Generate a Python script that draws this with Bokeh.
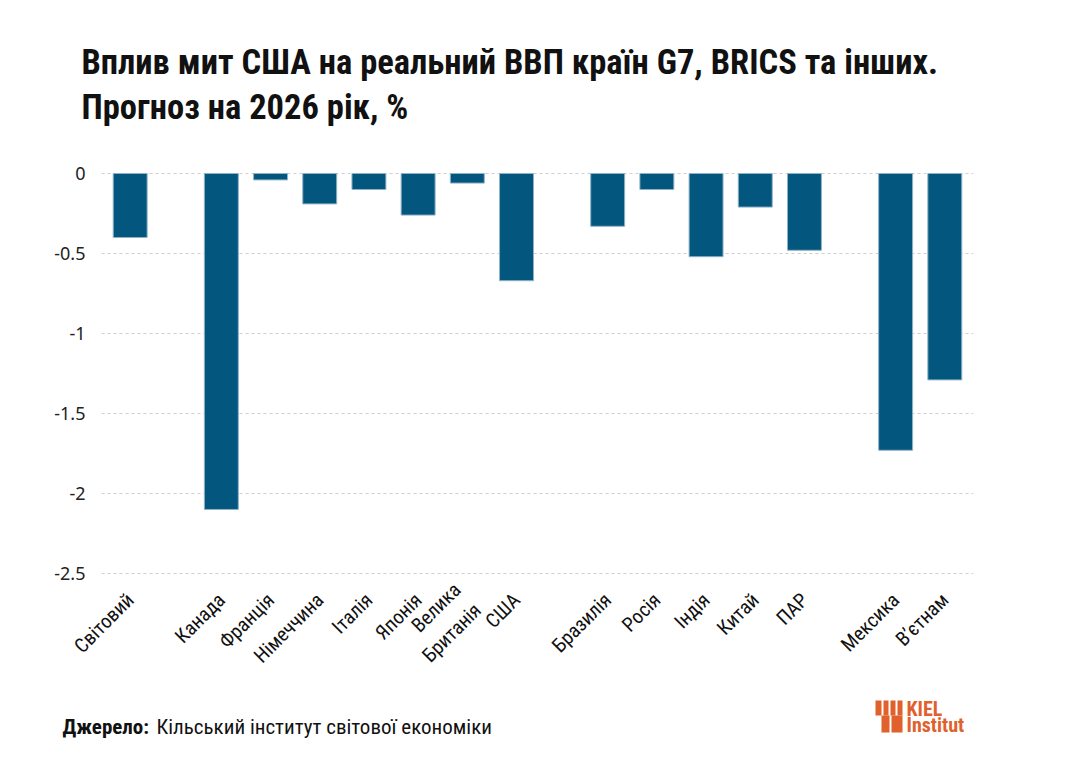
import math
from bokeh.plotting import figure
from bokeh.layouts import column
from bokeh.models import FactorRange, Range1d, FixedTicker
from bokeh.core.properties import value
from bokeh.embed import file_html
from bokeh.resources import INLINE

# ---- data ----
groups = ["Світ", "G7", "G7", "G7", "G7", "G7", "G7", "G7",
          "BRICS", "BRICS", "BRICS", "BRICS", "BRICS", "Інші", "Інші"]
countries = ["Світовий", "Канада", "Франція", "Німеччина", "Італія", "Японія",
             "Велика\nБританія", "США", "Бразилія", "Росія", "Індія", "Китай",
             "ПАР", "Мексика", "В’єтнам"]
values = [-0.40, -2.10, -0.04, -0.19, -0.10, -0.26, -0.06, -0.67,
          -0.33, -0.10, -0.52, -0.21, -0.48, -1.73, -1.29]
y_ticks = [0, -0.5, -1, -1.5, -2, -2.5]
y_tick_labels = ["0", "-0.5", "-1", "-1.5", "-2", "-2.5"]

title_lines = ["Вплив мит США на реальний ВВП країн G7, BRICS та інших.",
               "Прогноз на 2026 рік, %"]
source_bold = "Джерело:"
source_text = "Кільський інститут світової економіки"
logo_lines = ["KIEL", "Institut"]

NARROW = "'Roboto Condensed', 'Liberation Sans Narrow', 'DejaVu Sans Condensed', sans-serif"
BAR = "#03567d"
ORANGE = "#e0612c"
INK = "#111111"

# page layout (pixels from the page's top-left)
W = 1064
HEAD_H = 149          # header band: title
MAIN_BOTTOM = 696     # main chart ends here
TOTAL_H = 748
FL, FR, FB = 101, 973, 576   # frame edges of the chart


def band(y0, y1):
    f = figure(width=W, height=y1 - y0, x_range=Range1d(0, W), y_range=Range1d(y1, y0),
               x_axis_type=None, y_axis_type=None, output_backend="svg",
               toolbar_location=None, min_border=0)
    f.min_border_left = f.min_border_right = f.min_border_top = f.min_border_bottom = 0
    f.frame_align = False
    f.outline_line_color = None
    f.xgrid.grid_line_color = None
    f.ygrid.grid_line_color = None
    f.background_fill_color = "white"
    f.border_fill_color = "white"
    return f


# ---- header ----
head = band(0, HEAD_H)
head.text(x=[81, 81], y=[61, 106], text=title_lines,
          text_font=value(NARROW), text_font_style="bold", text_font_size="34.5px",
          text_color=INK, text_baseline="alphabetic", text_align="left")

# ---- main chart ----
factors = list(zip(groups, countries))
x_range = FactorRange(*factors, group_padding=0.853, range_padding=0.083,
                      range_padding_units="absolute")

p = figure(width=W, height=MAIN_BOTTOM - HEAD_H, x_range=x_range,
           y_range=Range1d(-2.519, 0.15),
           output_backend="svg", toolbar_location=None,
           min_border_left=FL, min_border_right=W - FR, min_border_top=0,
           min_border_bottom=MAIN_BOTTOM - FB)
p.frame_align = False
p.outline_line_color = None
p.background_fill_color = "white"
p.border_fill_color = "white"

p.vbar(x=factors, top=values, bottom=0, width=0.69,
       fill_color=BAR, line_color="#8fb3c8", line_width=1)

p.xgrid.grid_line_color = None
p.ygrid.ticker = FixedTicker(ticks=y_ticks)
p.ygrid.grid_line_color = "#cfcfcf"
p.ygrid.grid_line_dash = "3 3"
p.ygrid.grid_line_width = 1

p.yaxis.ticker = FixedTicker(ticks=y_ticks)
p.yaxis.major_label_overrides = {t: l for t, l in zip(y_ticks, y_tick_labels)}
p.yaxis.axis_line_color = None
p.yaxis.major_tick_line_color = None
p.yaxis.minor_tick_line_color = None
p.yaxis.major_label_standoff = 10
p.yaxis.major_label_text_font = "Noto Sans"
p.yaxis.major_label_text_font_size = "18px"
p.yaxis.major_label_text_color = "#222222"

p.xaxis.axis_line_color = None
p.xaxis.major_tick_line_color = None
p.xaxis.minor_tick_line_color = None
p.xaxis.major_label_orientation = math.pi / 4
p.xaxis.major_label_standoff = 14
p.xaxis.major_label_text_font = NARROW
p.xaxis.major_label_text_font_size = "20px"
p.xaxis.major_label_text_color = INK
p.xaxis.group_text_color = None
p.xaxis.group_text_font_size = "1px"
p.xaxis.separator_line_color = None

# ---- footer ----
foot = band(MAIN_BOTTOM, TOTAL_H)
foot.text(x=[62], y=[726], text=[source_bold], text_font=value(NARROW),
          text_font_style="bold", text_font_size="21px", text_color=INK,
          text_baseline="alphabetic", text_align="left")
foot.text(x=[156], y=[726], text=[source_text], text_font=value(NARROW),
          text_font_size="21px", text_color=INK,
          text_baseline="alphabetic", text_align="left")
# Kiel Institut logo
foot.quad(left=[875, 883, 890, 897], right=[881, 888, 895, 902],
          top=[700] * 4, bottom=[715] * 4, fill_color=ORANGE, line_color=None)
foot.quad(left=[881, 891], right=[889, 902], top=[715, 715], bottom=[732, 732],
          fill_color=ORANGE, line_color=None)
foot.text(x=[906, 906], y=[708, 724], text=logo_lines, text_font=value(NARROW),
          text_font_style="bold", text_font_size="20px", text_color=ORANGE,
          text_baseline="alphabetic", text_align="left")

layout = column(head, p, foot, spacing=0)
open("out.html", "w").write(file_html(layout, INLINE))
